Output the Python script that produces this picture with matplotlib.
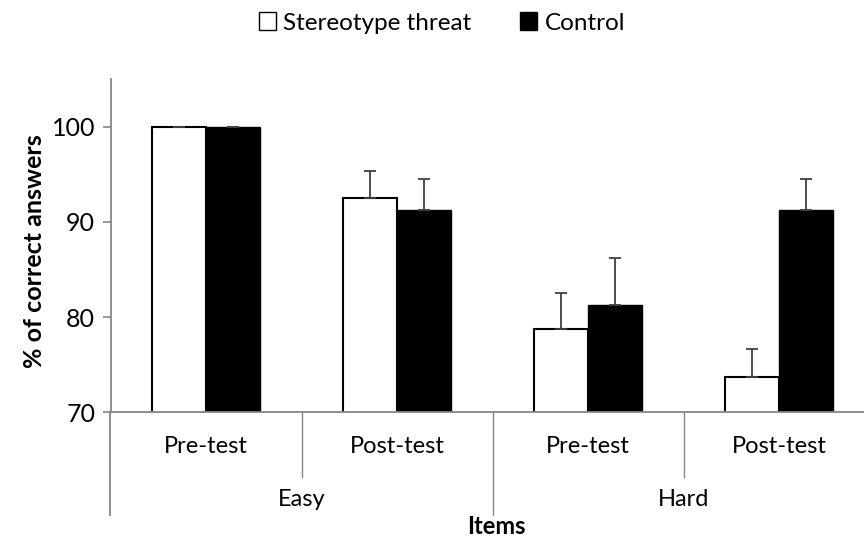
import matplotlib.pyplot as plt
import numpy as np
from matplotlib.patches import Patch
from matplotlib.transforms import blended_transform_factory

plt.rcParams['font.family'] = ['Lato', 'DejaVu Sans']

# data
sub_labels = ["Pre-test", "Post-test", "Pre-test", "Post-test"]
group_labels = ["Easy", "Hard"]
threat = [100, 92.5, 78.75, 73.75]
threat_err = [0, 2.8, 3.75, 2.9]
control = [100, 91.25, 81.25, 91.25]
control_err = [0, 3.2, 5.0, 3.2]

grey = "#868686"
fig = plt.figure(figsize=(8.64, 5.47), dpi=100)
# axes runs slightly past the right edge, like the original export
ax = fig.add_axes([110.5/864, (547-412.3)/547, 764/864, 333.3/547])

x = np.arange(len(sub_labels))
w = 0.283
ax.bar(x - w/2, threat, w, color="white", edgecolor="black", linewidth=1.5, zorder=2)
ax.bar(x + w/2, control, w, color="black", edgecolor="black", linewidth=1.0, zorder=2)
ax.errorbar(x - w/2, threat, yerr=[np.zeros(4), threat_err], fmt="none",
            ecolor="#404040", elinewidth=1.3, capsize=4.5, capthick=1.3, zorder=3)
ax.errorbar(x + w/2, control, yerr=[np.zeros(4), control_err], fmt="none",
            ecolor="#404040", elinewidth=1.3, capsize=4.5, capthick=1.3, zorder=3)

ax.set_xlim(-0.5, 3.5)
ax.set_ylim(70, 105)
ax.set_yticks([70, 80, 90, 100])
ax.set_xticks([])
for s in ["top", "right"]:
    ax.spines[s].set_visible(False)
for s in ["left", "bottom"]:
    ax.spines[s].set_color(grey)
    ax.spines[s].set_linewidth(1.3)
ax.tick_params(axis="y", direction="out", length=6, width=1.2, color=grey,
               labelsize=18, pad=5)

# multi-level category axis
tr = blended_transform_factory(ax.transData, ax.transAxes)
ax.plot([-0.5, -0.5], [0, -0.308], color=grey, lw=1.3, transform=tr, clip_on=False)
for xs in [0.5, 2.5]:
    ax.plot([xs, xs], [0, -0.194], color=grey, lw=1.0, transform=tr, clip_on=False)
ax.plot([1.5, 1.5], [0, -0.308], color=grey, lw=1.0, transform=tr, clip_on=False)
for i, lab in enumerate(sub_labels):
    ax.text(x[i], -0.104, lab, transform=tr, ha="center", va="center", fontsize=17)
for i, lab in enumerate(group_labels):
    ax.text(0.5 + 2*i, -0.263, lab, transform=tr, ha="center", va="center", fontsize=17)
fig.text(496/864, 1 - 527/547, "Items", ha="center", va="center", fontsize=17, fontweight="bold")
fig.text(35/864, 1 - 251/547, "% of correct answers", rotation=90, ha="center", va="center",
         fontsize=18, fontweight="bold")

handles = [Patch(facecolor="white", edgecolor="black", linewidth=1.0),
           Patch(facecolor="black", edgecolor="black", linewidth=1.0)]
fig.legend(handles, ["Stereotype threat", "Control"], loc="center", bbox_to_anchor=(442/864, 1 - 23/547),
           ncol=2, frameon=False, fontsize=17.5, handlelength=0.7, handleheight=0.7,
           handletextpad=0.3, columnspacing=2.0)

fig.savefig("out.png", dpi=100)
